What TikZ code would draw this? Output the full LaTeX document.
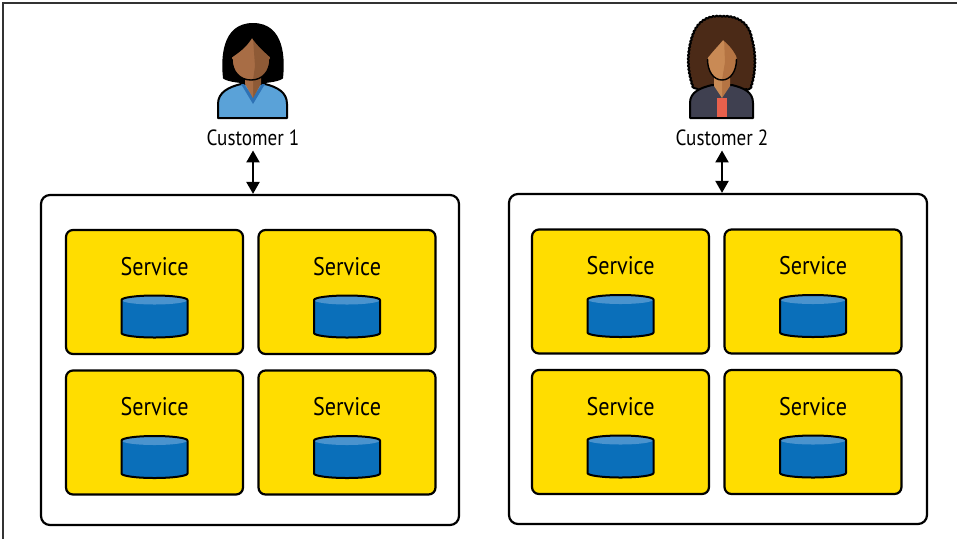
\documentclass[tikz,border=0pt]{standalone}
\usepackage{fontspec}
\setmainfont{PT Sans}[FakeStretch=0.87]
\usetikzlibrary{arrows.meta,decorations.pathmorphing}
\definecolor{svcyellow}{HTML}{FFDD00}
\definecolor{dbblue}{HTML}{0A6FBA}
\definecolor{dbtop}{HTML}{4A93CE}
\definecolor{shirt}{HTML}{5AA2D8}
\definecolor{collar}{HTML}{2E72B5}
\definecolor{skinA}{HTML}{A86D45}
\definecolor{skinB}{HTML}{8E5A36}
\definecolor{skinC}{HTML}{C98A55}
\definecolor{skinD}{HTML}{B57443}
\definecolor{curls}{HTML}{4B2A17}
\definecolor{jacket}{HTML}{3F4050}
\definecolor{blouse}{HTML}{E8604C}
\definecolor{framegray}{HTML}{333333}
\tikzset{
  outerbox/.style={draw=black,line width=2.2pt,rounded corners=9pt,fill=white,
    minimum width=418pt,minimum height=330pt,inner sep=0pt},
  svcbox/.style={draw=black,line width=2.2pt,rounded corners=7pt,fill=svcyellow,
    minimum width=177pt,minimum height=124pt,inner sep=0pt},
  svclabel/.style={anchor=base,font=\fontsize{25.5}{25.5}\selectfont,inner sep=0pt},
  custlabel/.style={anchor=base,font=\fontsize{22}{22}\selectfont,inner sep=0pt},
  link/.style={{Triangle[length=12pt,width=13pt]}-{Triangle[length=12pt,width=13pt]},line width=2.2pt},
  outline/.style={draw=black,line width=2pt,line join=round},
  db/.pic={
    \fill[dbblue] (-33,-16) -- (-33,17) arc[start angle=180,end angle=360,x radius=33pt,y radius=4.5pt]
      -- (33,-16) arc[start angle=0,end angle=180,x radius=33pt,y radius=4.5pt] -- cycle;
    \fill[dbtop] (0,-16) ellipse[x radius=33pt,y radius=4.5pt];
    \draw[outline] (-33,-16) -- (-33,17) arc[start angle=180,end angle=360,x radius=33pt,y radius=4.5pt]
      -- (33,-16) arc[start angle=0,end angle=180,x radius=33pt,y radius=4.5pt] -- cycle;
  }
}
\begin{document}
\begin{tikzpicture}[x=1pt,y=-1pt]
\useasboundingbox (0,0) rectangle (957,539);
\fill[white] (0,0) rectangle (957,539);
% frame edges
\draw[framegray,line width=1.5pt] (957,3) -- (3,3) -- (3,539);

% ---- Customer 1 ----
\begin{scope}
  \draw[outline,fill=black] (224,78) .. controls (222,60) and (222,24) .. (253,24)
     .. controls (284,24) and (284,60) .. (282,78) .. controls (272,84) and (234,84) .. cycle;
  \draw[outline,fill=shirt] (218,118) -- (218,104) .. controls (218,92) and (229,87) .. (241,84)
     -- (265,84) .. controls (277,87) and (287,92) .. (287,104) -- (287,118) -- cycle;
  \fill[collar] (241,84) -- (253,104) -- (265,84) -- (262,84) -- (253,97) -- (244,84) -- cycle;
  \fill[skinB] (245,78) -- (261,78) -- (261,84) -- (253,98) -- cycle;
  \fill[skinA] (245,78) -- (253,78) -- (253,98) -- (245,84) -- cycle;
  \fill[skinA] (251,59) ellipse[x radius=19pt,y radius=21pt];
  \fill[skinB] (253,38) -- (256,38) .. controls (266,40) and (270,50) .. (270,59)
     .. controls (270,72) and (262,80) .. (253,80) -- (255,66) -- cycle;
  \draw[line width=1.4pt] (232,59) .. controls (232,72) and (240,80) .. (251,80) .. controls (262,80) and (270,72) .. (270,59);
  \fill[black] (231,58) .. controls (231,36) and (244,34) .. (253,34)
     .. controls (266,34) and (271,44) .. (271,58) .. controls (262,50) and (256,44) .. (252,38)
     .. controls (246,48) and (238,53) .. cycle;
\end{scope}
\node[custlabel] (c1) at (253,145) {Customer 1};

% ---- Customer 2 ----
\begin{scope}
  \draw[outline,fill=curls,decorate,decoration={bumps,segment length=7pt,amplitude=1.2pt}]
     (694,88) .. controls (686,66) and (689,48) .. (693,36)
     .. controls (699,18) and (713,16) .. (722,17) .. controls (735,16) and (748,22) .. (751,38)
     .. controls (755,52) and (756,70) .. (750,88) .. controls (735,92) and (709,92) .. cycle;
  \draw[outline,fill=jacket] (690,118) -- (690,103) .. controls (690,92) and (700,88) .. (712,85)
     -- (732,85) .. controls (744,88) and (753,92) .. (753,103) -- (753,118) -- cycle;
  \fill[blouse] (717,98) rectangle (727,117);
  \fill[skinD] (714,78) -- (730,78) -- (730,86) -- (722,98) -- cycle;
  \fill[skinC] (714,78) -- (722,78) -- (722,98) -- (714,86) -- cycle;
  \fill[skinC] (722,59) ellipse[x radius=14.5pt,y radius=21pt];
  \fill[skinD] (724,38) .. controls (732,40) and (736.5,50) .. (736.5,59)
     .. controls (736.5,72) and (730,80) .. (722,80) -- (725,62) -- cycle;
  \draw[line width=1.4pt] (707.5,59) .. controls (707.5,72) and (714,80) .. (722,80) .. controls (730,80) and (736.5,72) .. (736.5,59);
  \fill[curls] (706,60) .. controls (705,44) and (712,36) .. (722,35)
     .. controls (732,36) and (739,44) .. (738,60) .. controls (734,50) and (728,44) .. (723,40)
     .. controls (718,46) and (712,52) .. cycle;
\end{scope}
\node[custlabel] (c2) at (722,145) {Customer 2};

% ---- Deployment 1 ----
\node[outerbox] (d1) at (250,360) {};
\foreach \n/\x/\y in {a/154.5/292,b/347/292,c/154.5/432.5,d/347/432.5}{
  \node[svcbox] (d1\n) at (\x,\y) {};
  \node[svclabel] at ([yshift=17pt]d1\n.center) {Service};
  \pic at ([yshift=-24pt]d1\n.center) {db};
}
% ---- Deployment 2 ----
\node[outerbox] (d2) at (718,359) {};
\foreach \n/\x/\y in {a/620.5/291.5,b/813/291.5,c/620.5/432,d/813/432}{
  \node[svcbox] (d2\n) at (\x,\y) {};
  \node[svclabel] at ([yshift=17pt]d2\n.center) {Service};
  \pic at ([yshift=-24pt]d2\n.center) {db};
}

% ---- Links ----
\draw[link] ([yshift=-5pt]c1.south) -- (c1.south |- d1.north);
\draw[link] ([yshift=-5pt]c2.south) -- (c2.south |- d2.north);
\end{tikzpicture}
\end{document}
